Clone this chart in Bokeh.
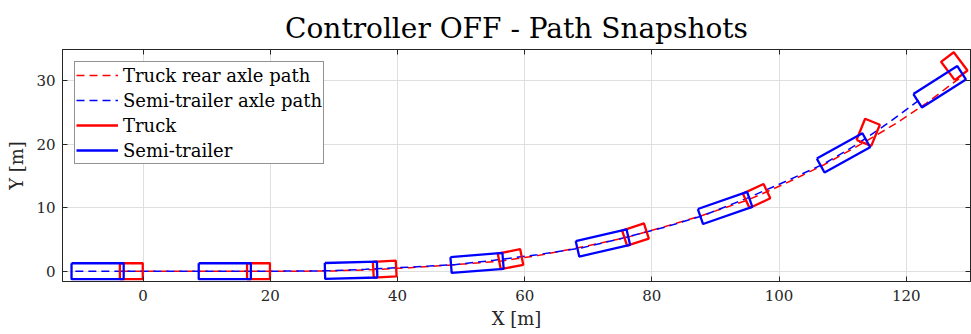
import numpy as np
from bokeh.plotting import figure
from bokeh.models import Range1d, LinearAxis, FixedTicker, Legend
from bokeh.embed import file_html
from bokeh.resources import INLINE

# Truck rear axle trajectory [m]
truck_path_x = [-3.35, 5, 15, 25, 30, 36.5, 42, 48, 56.3, 62, 68, 76, 82, 88,
                95.1, 101, 107, 113.45, 118, 123, 128.3]
truck_path_y = [0, 0, 0, 0, 0.05, 0.25, 0.55, 0.95, 1.6, 2.45, 3.6, 5.3, 7.0, 8.8,
                11.2, 13.8, 16.7, 20.3, 23.0, 26.3, 30.3]

# Semi-trailer axle trajectory [m]
trailer_path_x = [-10.65, 0, 10, 20, 29.2, 35, 40, 45, 49.0, 55, 62, 68.9, 75, 82,
                  88.2, 95, 101, 107.1, 112, 117, 122.3]
trailer_path_y = [0, 0, 0, 0, 0.06, 0.3, 0.55, 0.8, 1.03, 1.7, 2.6, 3.66, 5.1, 6.9,
                  8.8, 11.5, 14.1, 16.9, 19.8, 23.2, 27.1]

# Snapshots: hitch point [m] and headings [deg]
snap_hitch_x = [-3.35, 16.65, 36.5, 56.3, 76.0, 95.1, 113.45, 128.45]
snap_hitch_y = [0.0, 0.0, 0.25, 1.6, 5.3, 11.2, 20.45, 31.05]
snap_truck_heading = [0, 0, 3, 11, 18, 25, 68, 127]
snap_trailer_heading = [0, 0, 1.5, 4.5, 13, 19.2, 29, 32.5]

# Vehicle body dimensions [m]
TRUCK_FRONT, TRUCK_REAR = 3.3, 0.3      # from hitch
TRAILER_FRONT, TRAILER_REAR = 0.3, 7.9  # from hitch
BODY_WIDTH = 2.5

x_ticks = [0, 20, 40, 60, 80, 100, 120]
y_ticks = [0, 10, 20, 30]


def body_outline(hx, hy, heading_deg, ahead, behind, width):
    th = np.deg2rad(heading_deg)
    d = np.array([np.cos(th), np.sin(th)])
    n = np.array([-np.sin(th), np.cos(th)])
    h = np.array([hx, hy])
    front = h + ahead * d
    rear = h - behind * d
    half = 0.5 * width
    pts = [rear + half * n, front + half * n, front - half * n, rear - half * n, rear + half * n]
    return [q[0] for q in pts], [q[1] for q in pts]


truck_xs, truck_ys, trailer_xs, trailer_ys = [], [], [], []
for hx, hy, tt, ts in zip(snap_hitch_x, snap_hitch_y, snap_truck_heading, snap_trailer_heading):
    xs, ys = body_outline(hx, hy, tt, TRUCK_FRONT, TRUCK_REAR, BODY_WIDTH)
    truck_xs.append(xs); truck_ys.append(ys)
    xs, ys = body_outline(hx, hy, ts, TRAILER_FRONT, TRAILER_REAR, BODY_WIDTH)
    trailer_xs.append(xs); trailer_ys.append(ys)

FONT = "DejaVu Serif"
INK = "#262626"

p = figure(width=971, height=334, output_backend="svg", toolbar_location=None,
           x_range=Range1d(-12.67, 130.1), y_range=Range1d(-1.62, 34.87),
           min_border_left=62, min_border_right=1, min_border_top=49, min_border_bottom=53,
           title="Controller OFF - Path Snapshots")
p.title.align = "center"
p.title.text_font = FONT
p.title.text_font_size = "28px"
p.title.text_font_style = "normal"
p.title.text_color = "black"
p.title.standoff = 10

p.outline_line_color = INK
p.outline_line_width = 1
p.background_fill_color = "white"
p.border_fill_color = "white"

for ax in (p.xaxis[0], p.yaxis[0]):
    ax.axis_line_color = INK
    ax.major_tick_line_color = INK
    ax.major_tick_in = 5
    ax.major_tick_out = 0
    ax.minor_tick_line_color = None
    ax.major_label_text_font = FONT
    ax.major_label_text_font_size = "15px"
    ax.major_label_text_color = INK
    ax.axis_label_text_font = FONT
    ax.axis_label_text_font_size = "18px"
    ax.axis_label_text_font_style = "normal"
    ax.axis_label_text_color = INK

p.xaxis[0].ticker = FixedTicker(ticks=x_ticks)
p.yaxis[0].ticker = FixedTicker(ticks=y_ticks)
p.xaxis[0].axis_label = "X [m]"
p.yaxis[0].axis_label = "Y [m]"
p.xaxis[0].major_label_standoff = 8
p.xaxis[0].axis_label_standoff = 4
p.yaxis[0].major_label_standoff = 7
p.yaxis[0].axis_label_standoff = 6

# mirrored tick marks on the top and right edges (no labels)
top = LinearAxis(ticker=FixedTicker(ticks=x_ticks), major_tick_in=5, major_tick_out=0,
                 minor_tick_line_color=None, axis_line_color=INK, major_tick_line_color=INK,
                 major_label_overrides={t: "" for t in x_ticks}, major_label_standoff=0)
right = LinearAxis(ticker=FixedTicker(ticks=y_ticks), major_tick_in=5, major_tick_out=0,
                   minor_tick_line_color=None, axis_line_color=INK, major_tick_line_color=INK,
                   major_label_overrides={t: "" for t in y_ticks}, major_label_standoff=0)
p.add_layout(top, "above")
p.add_layout(right, "right")

p.grid.grid_line_color = "#dfdfdf"
p.grid.grid_line_width = 1
p.xgrid.ticker = FixedTicker(ticks=x_ticks)
p.ygrid.ticker = FixedTicker(ticks=y_ticks)

r1 = p.line(truck_path_x, truck_path_y, line_color="red", line_width=1.5, line_dash="8 5")
r2 = p.line(trailer_path_x, trailer_path_y, line_color="blue", line_width=1.5, line_dash="8 5")
r3 = p.multi_line(truck_xs, truck_ys, line_color="red", line_width=2.3)
r4 = p.multi_line(trailer_xs, trailer_ys, line_color="blue", line_width=2.3)

legend = Legend(items=[("Truck rear axle path", [r1]),
                       ("Semi-trailer axle path", [r2]),
                       ("Truck", [r3]),
                       ("Semi-trailer", [r4])],
                location="top_left")
legend.margin = 12
legend.padding = 1
legend.spacing = 1
legend.glyph_width = 42
legend.glyph_height = 24
legend.label_height = 24
legend.label_standoff = 5
legend.label_text_font = FONT
legend.label_text_font_size = "18px"
legend.label_text_color = "black"
legend.border_line_color = INK
legend.border_line_width = 1
legend.background_fill_alpha = 1
p.add_layout(legend)

open("out.html", "w").write(file_html(p, INLINE))
